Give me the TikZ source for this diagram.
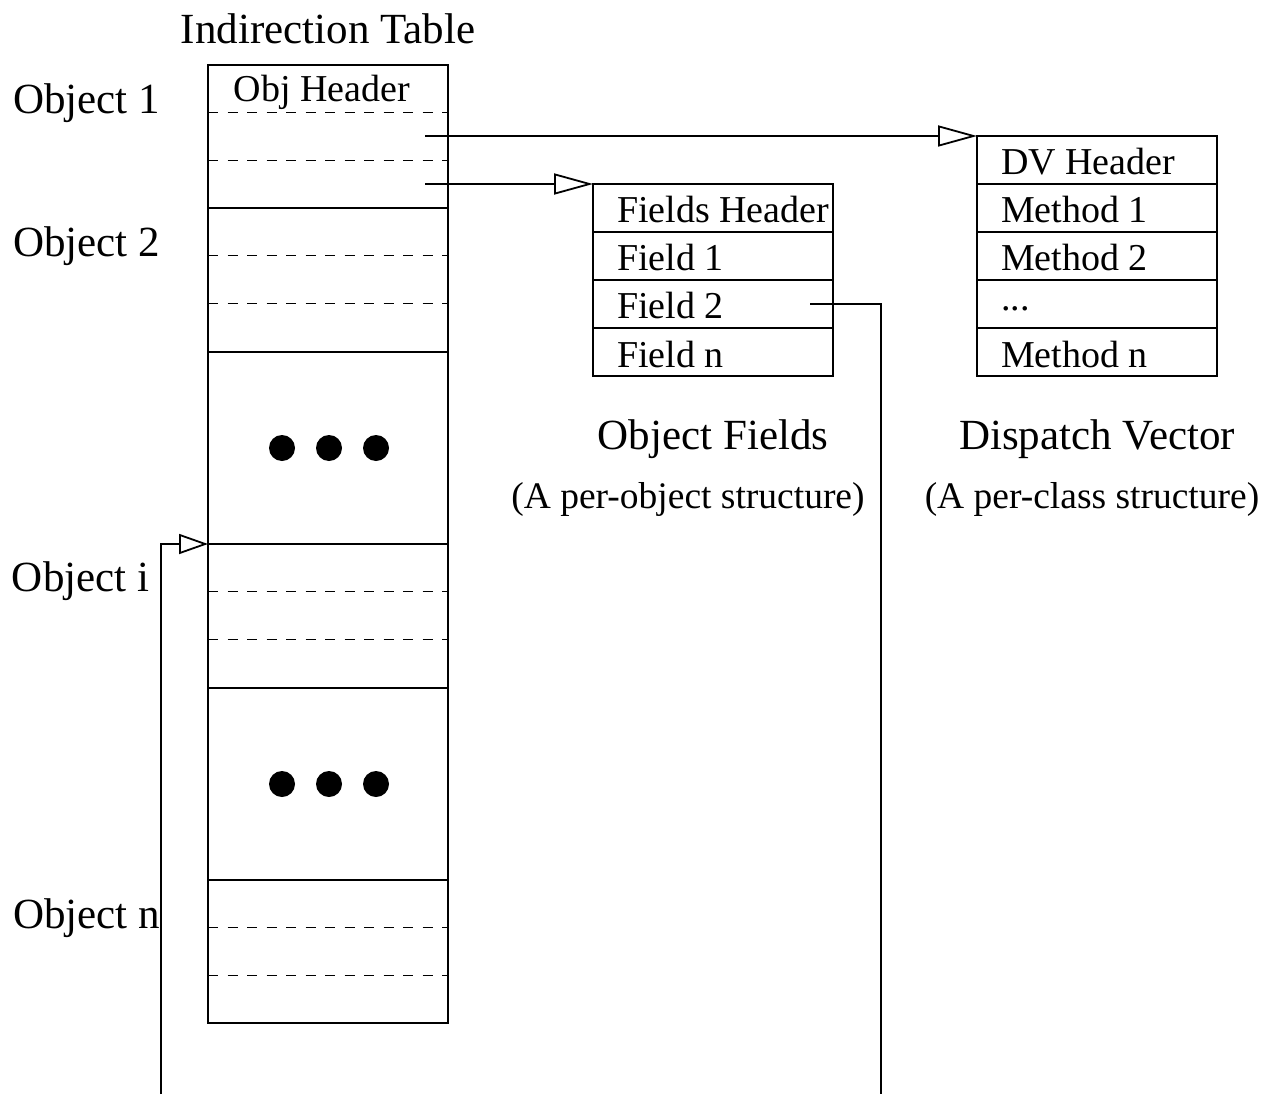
\documentclass[tikz,border=0pt]{standalone}
\usepackage{fontspec}
\setmainfont{Liberation Serif}
\usetikzlibrary{arrows.meta,calc}

\begin{document}
\begin{tikzpicture}[x=1pt,y=-1pt,
  every node/.style={inner sep=0pt, outer sep=0pt},
  big/.style={font=\fontsize{43}{48}\selectfont},
  mid/.style={font=\fontsize{38}{44}\selectfont},
  small/.style={font=\fontsize{37.5}{42}\selectfont},
  section/.style={draw, line width=2.4pt, minimum width=240pt, anchor=north west},
  slot/.style={dash pattern=on 10pt off 9.5pt, line width=1.2pt},
  row/.style={draw, line width=1.3pt, minimum width=240pt, minimum height=48pt, anchor=north west},
  frame/.style={line width=2pt},
  ptr/.style={line width=1.3pt},
  bighead/.style={-{Triangle[open, length=39pt, width=21pt, line width=1.8pt]}},
  smallhead/.style={-{Triangle[open, length=29pt, width=20pt, line width=1.8pt]}}
]
\useasboundingbox (0,0) rectangle (1281,1094);

% ---- indirection table ----
\node[big] (title) at (328,29) {Indirection Table};
\node[section, minimum height=143pt] (obj1)  at (208,65)  {};
\node[section, minimum height=144pt] (obj2)  at (208,208) {};
\node[section, minimum height=192pt] (dots1) at (208,352) {};
\node[section, minimum height=144pt] (obji)  at (208,544) {};
\node[section, minimum height=192pt] (dots2) at (208,688) {};
\node[section, minimum height=143pt] (objn)  at (208,880) {};

% slot separators inside each object entry
\foreach \o in {obj1,obj2,obji,objn}{
  \draw[slot] ($(\o.north west)+(0,47.5)$) -- ($(\o.north east)+(0,47.5)$);
  \draw[slot] ($(\o.north west)+(0,95.5)$) -- ($(\o.north east)+(0,95.5)$);
}
\node[mid] (objhdr) at (322,92) {Obj Header};

% elided entries
\foreach \d in {dots1,dots2}
  \foreach \dx in {-46,1,48}
    \fill ($(\d.center)+(\dx,0)$) circle (13pt);

% entry labels
\node[big, anchor=west] (lab1) at (13,103) {Object 1};
\node[big, anchor=west] (lab2) at (13,246) {Object 2};
\node[big, anchor=west] (labi) at (12,581) {Object i};
\node[big, anchor=west] (labn) at (13,918) {Object n};

% ---- object fields ----
\node[row] (fh) at (593,184) {};
\node[row] (f1) at (593,232) {};
\node[row] (f2) at (593,280) {};
\node[row] (fn) at (593,328) {};
\draw[frame] (fh.north west) rectangle (fn.south east);
\node[mid, anchor=west] (tfh) at ($(fh.west)+(24,2)$) {Fields Header};
\node[mid, anchor=west] (tf1) at ($(f1.west)+(24,2)$) {Field 1};
\node[mid, anchor=west] (tf2) at ($(f2.west)+(24,2)$) {Field 2};
\node[mid, anchor=west] (tfn) at ($(fn.west)+(24,2)$) {Field n};
\node[big] (oftitle) at (713,439) {Object Fields};
\node[small] (ofsub) at (688,499) {(A per-object structure)};

% ---- dispatch vector ----
\node[row] (dvh) at (977,136) {};
\node[row] (m1)  at (977,184) {};
\node[row] (m2)  at (977,232) {};
\node[row] (me)  at (977,280) {};
\node[row] (mn)  at (977,328) {};
\draw[frame] (dvh.north west) rectangle (mn.south east);
\node[mid, anchor=west] (tdvh) at ($(dvh.west)+(24,2)$) {DV Header};
\node[mid, anchor=west] (tm1)  at ($(m1.west)+(24,2)$) {Method 1};
\node[mid, anchor=west] (tm2)  at ($(m2.west)+(24,2)$) {Method 2};
\node[mid, anchor=west] (tme)  at ($(me.west)+(24,5)$) {...};
\node[mid, anchor=west] (tmn)  at ($(mn.west)+(24,2)$) {Method n};
\node[big] (dvtitle) at (1097,439) {Dispatch Vector};
\node[small] (dvsub) at (1092,499) {(A per-class structure)};

% ---- pointers ----
\coordinate (pdv) at (425,136);
\coordinate (pf)  at (425,184);
\coordinate (pobj) at (810,304);
\coordinate (downR) at (881,1094);
\coordinate (downL) at (161,1094);
\draw[ptr, bighead] (pdv) -- (dvh.north west);
\draw[ptr, bighead] (pf) -- (fh.north west);
\draw[ptr] (pobj) -| (downR);
\draw[ptr, smallhead] (downL) |- (obji.north west);
\end{tikzpicture}
\end{document}
